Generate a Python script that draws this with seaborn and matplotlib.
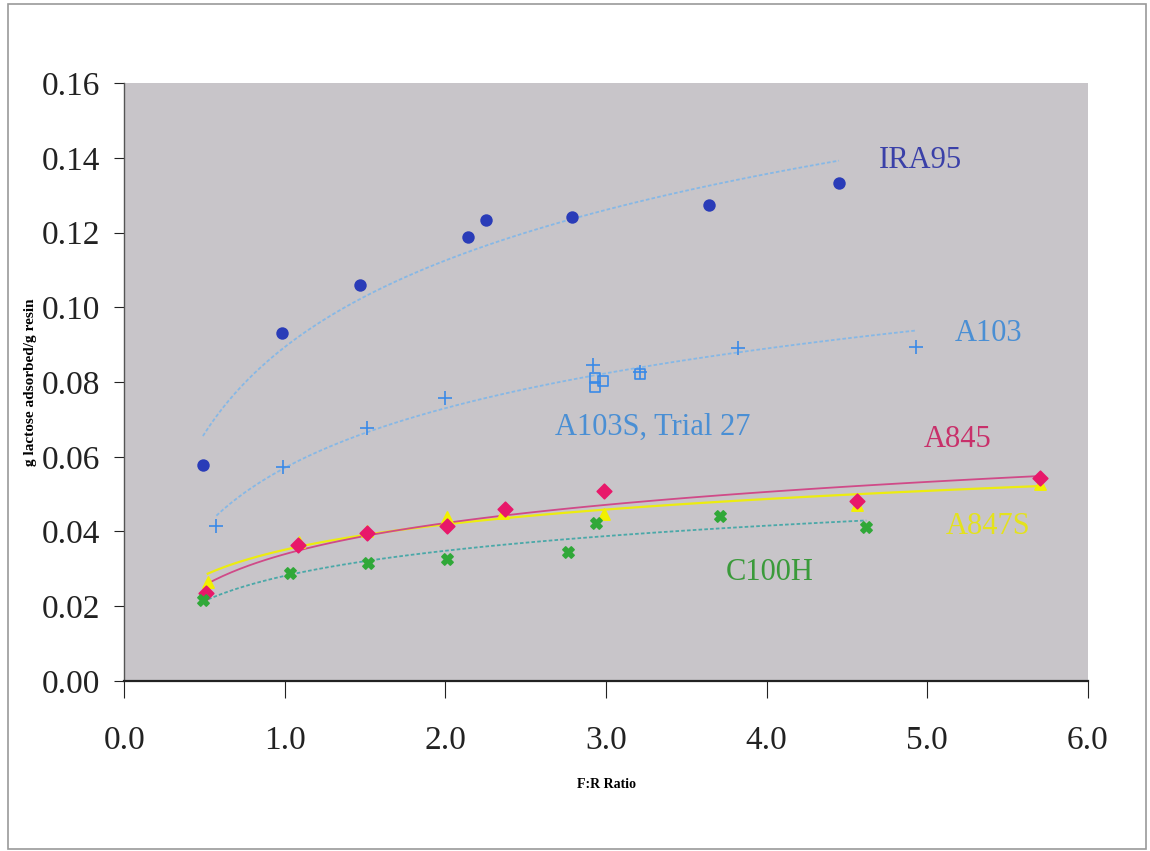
import numpy as np
import pandas as pd
import matplotlib
matplotlib.use("Agg")
import matplotlib.pyplot as plt
import seaborn as sns
from matplotlib.ticker import FormatStrFormatter
from matplotlib.patches import Rectangle

# ---------------- data ----------------
ira95_x = [0.49, 0.985, 1.47, 2.14, 2.25, 2.79, 3.64, 4.45]
ira95_y = [0.0578, 0.0931, 0.106, 0.1188, 0.1233, 0.1241, 0.1274, 0.1332]

a103_x = [0.574, 0.99, 1.51, 2.0, 2.92, 3.21, 3.82, 4.93]
a103_y = [0.0415, 0.0573, 0.0677, 0.0757, 0.0847, 0.0826, 0.0891, 0.0894]

a103s_x = [2.93, 2.98, 2.93, 3.21]
a103s_y = [0.0811, 0.0803, 0.0787, 0.0822]

a845_x = [0.51, 1.085, 1.51, 2.01, 2.37, 2.99, 4.56, 5.70]
a845_y = [0.0235, 0.0364, 0.0396, 0.0415, 0.0460, 0.0508, 0.0482, 0.0543]

a847s_x = [0.52, 1.09, 1.51, 2.01, 2.36, 2.99, 4.56, 5.70]
a847s_y = [0.0265, 0.0372, 0.0400, 0.0439, 0.0450, 0.0448, 0.0471, 0.0527]

c100h_x = [0.49, 1.03, 1.52, 2.01, 2.76, 2.94, 3.71, 4.62]
c100h_y = [0.0217, 0.0289, 0.0316, 0.0326, 0.0345, 0.0423, 0.0441, 0.0412]

x_ticks = [0.0, 1.0, 2.0, 3.0, 4.0, 5.0, 6.0]
y_ticks = [0.00, 0.02, 0.04, 0.06, 0.08, 0.10, 0.12, 0.14, 0.16]

labels = ["IRA95", "A103", "A103S, Trial 27", "A845", "A847S", "C100H"]
label_pos = [(4.96, 0.1394), (5.38, 0.0931), (3.29, 0.0680),
             (5.19, 0.0645), (5.38, 0.0412), (4.02, 0.0289)]
label_col = ["#3a40a8", "#4a8fd4", "#4a8fd4", "#c8306a", "#e4e21c", "#3a9a3a"]

# ---------------- figure ----------------
serif = ["Liberation Serif", "DejaVu Serif"]
plt.rcParams["font.family"] = serif

fig = plt.figure(figsize=(11.5, 8.51), dpi=100)
fig.patch.set_facecolor("white")
ax = fig.add_axes([0.108, 0.200, 0.838, 0.702])
ax.set_facecolor("#c8c5c9")

def series(x, y, marker, mcolor, lcolor, ls, ms=60, fit=True, mec=None, lw=1.3):
    df = pd.DataFrame({"x": x, "y": y})
    if fit:
        sns.regplot(data=df, x="x", y="y", logx=True, ci=None, scatter=False,
                    ax=ax, line_kws=dict(color=lcolor, lw=lw, ls=ls))
    sns.scatterplot(data=df, x="x", y="y", marker=marker, color=mcolor,
                    s=ms, ax=ax, edgecolor=mec if mec else mcolor,
                    linewidth=1.2, zorder=5)

series(ira95_x, ira95_y, "o", "#2a3cb8", "#86b8e6", (0, (2, 1.2)), ms=60)
series(a103_x, a103_y, "+", "#3a8ae8", "#86b8e6", (0, (2, 1.2)), ms=110)
series(a103s_x, a103s_y, "s", "none", None, None, ms=55, fit=False, mec="#3a8ae8")
series(a847s_x, a847s_y, "^", "#f2f000", "#ecec10", "-", ms=65, lw=1.6)
series(a845_x, a845_y, "D", "#e8186a", "#d04a88", "-", ms=55)
series(c100h_x, c100h_y, "X", "#30a838", "#4aa8a8", (0, (2, 1.2)), ms=65)

for t, (px, py), c in zip(labels, label_pos, label_col):
    ax.text(px, py, t, color=c, fontsize=22, ha="center", va="center",
            family=serif)

ax.set_xlim(0, 6)
ax.set_ylim(0, 0.16)
ax.set_xticks(x_ticks)
ax.set_yticks(y_ticks)
ax.xaxis.set_major_formatter(FormatStrFormatter("%.1f"))
ax.yaxis.set_major_formatter(FormatStrFormatter("%.2f"))
ax.tick_params(axis="x", direction="out", length=12, width=0.8, labelsize=24,
               pad=20, colors="#222222")
ax.tick_params(axis="y", direction="out", length=7, width=0.8, labelsize=24,
               pad=10, colors="#222222")
for s in ["top", "right"]:
    ax.spines[s].set_visible(False)
ax.spines["bottom"].set_linewidth(1.6)
ax.spines["left"].set_linewidth(1.0)
ax.spines["bottom"].set_color("#222222")
ax.spines["left"].set_color("#555555")

ax.set_xlabel("F:R Ratio", fontsize=10, fontweight="bold", labelpad=16)
ax.set_ylabel("g lactose adsorbed/g resin", fontsize=11, fontweight="bold",
              labelpad=4)
ax.yaxis.set_label_coords(-0.09, 0.5)

fig.patches.append(Rectangle((8 / 1150, 2 / 851), 1138 / 1150, 845 / 851,
                             transform=fig.transFigure, fill=False,
                             edgecolor="#9a9a9a", lw=1.2))

fig.savefig("out.png", dpi=100)
